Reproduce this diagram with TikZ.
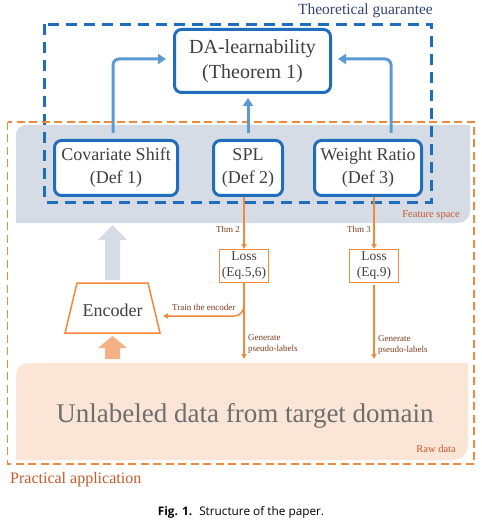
\documentclass[tikz,border=0pt]{standalone}
\usepackage{fontspec}
\setmainfont{Liberation Serif}
\newfontfamily\capfont{Open Sans}
\usetikzlibrary{arrows.meta,calc}
\definecolor{boxblue}{HTML}{1F6EBE}
\definecolor{arrblue}{HTML}{5B9BD5}
\definecolor{bandgray}{HTML}{D6DCE5}
\definecolor{bandpeach}{HTML}{FBE5D6}
\definecolor{peacharrow}{HTML}{F4B183}
\definecolor{orng}{HTML}{F08A3A}
\definecolor{txtgray}{HTML}{404040}
\definecolor{guar}{HTML}{33456E}
\definecolor{rust}{HTML}{C55A2A}
\definecolor{brn}{HTML}{7F3A1C}
\definecolor{biggray}{HTML}{6E6E6E}
\tikzset{
  bluebox/.style={draw=boxblue, line width=3pt, rounded corners=7pt, fill=white,
    align=center, inner sep=0pt, text=txtgray, minimum height=55pt},
  lossbox/.style={draw=orng, line width=1pt, fill=white, align=center, inner sep=0pt,
    text=txtgray, minimum width=49pt, minimum height=33pt,
    font=\fontsize{13.5}{16}\selectfont},
  barrow/.style={draw=arrblue, line width=3pt, rounded corners=6pt,
    -{Triangle[length=8pt,width=10pt]}},
  oarrow/.style={draw=orng, line width=1.5pt, -{Triangle[length=5pt,width=5pt]}},
  smalllbl/.style={text=brn, font=\fontsize{9}{11}\selectfont, inner sep=0pt},
  ralbl/.style={text=rust, font=\fontsize{10.5}{12}\selectfont, inner sep=0pt},
}
\begin{document}
\begin{tikzpicture}[x=1pt,y=-1pt]
\useasboundingbox (0,0) rectangle (481,521);
\fill[white] (0,0) rectangle (481,521);
% bands
\fill[bandgray] (16,223) -- (16,135) arc[start angle=180,end angle=270,radius=10] -- (470,125) -- (470,211) arc[start angle=0,end angle=90,radius=12] -- cycle;
\fill[bandpeach] (16,460) -- (16,375) arc[start angle=180,end angle=270,radius=12] -- (468,363) -- (468,445) arc[start angle=0,end angle=90,radius=15] -- cycle;
% frames
\draw[boxblue, line width=3pt, dash pattern=on 11pt off 7pt] (44.5,24.5) rectangle (431.5,202.5);
\draw[orng, line width=1.2pt, dash pattern=on 8pt off 4.5pt] (7.5,122) rectangle (474,464);
% boxes
\node[bluebox, minimum width=156pt, minimum height=63pt, font=\fontsize{20}{25}\selectfont] (da) at (252.5,61) {DA-learnability\\(Theorem 1)};
\node[bluebox, minimum width=123pt, font=\fontsize{18}{23}\selectfont] (cov) at (116,168) {Covariate Shift\\(Def 1)};
\node[bluebox, minimum width=69pt, font=\fontsize{18}{23}\selectfont] (spl) at (248,168) {SPL\\(Def 2)};
\node[bluebox, minimum width=107pt, font=\fontsize{18}{23}\selectfont] (wr) at (368,168) {Weight Ratio\\(Def 3)};
% blue arrows
\draw[barrow, shorten >=7pt] ([shift={(-3pt,6pt)}]cov.north) |- ([yshift=2pt]da.west);
\draw[barrow, shorten >=4pt] ([yshift=6pt]spl.north) -- (spl.north |- da.south);
\draw[barrow, shorten >=6pt] ([shift={(23pt,6pt)}]wr.north) |- ([yshift=2pt]da.east);
% loss boxes
\node[lossbox] (loss1) at (244,266) {Loss\\(Eq.5,6)};
\node[lossbox] (loss2) at (374,266) {Loss\\(Eq.9)};
% encoder
\draw[orng, line width=1.5pt, fill=white] (77,283) -- (148,283) -- (160,333) -- (65,333) -- cycle;
\node[anchor=base, text=txtgray, font=\fontsize{18}{22}\selectfont, inner sep=0pt] (enc) at (112.5,316) {Encoder};
% big arrows
\fill[bandgray] (105,280) -- (105,240) -- (98,240) -- (112.5,225) -- (127,240) -- (120,240) -- (120,280) -- cycle;
\fill[peacharrow] (105,359) -- (105,348) -- (98,348) -- (112.5,336) -- (127,348) -- (120,348) -- (120,359) -- cycle;
% orange connectors
\coordinate (g1) at (244,359);
\coordinate (g2) at (374,359);
\coordinate (tr) at (163,316);
\draw[oarrow] (spl.south -| loss1.north) -- (loss1.north);
\draw[oarrow] (wr.south -| loss2.north) -- (loss2.north);
\draw[oarrow] (loss1.south) -- (g1);
\draw[oarrow] ([yshift=-2pt]loss2.south) -- (g2);
\draw[oarrow, rounded corners=10pt] (loss1.south) |- (tr);
% labels
\node[smalllbl, anchor=base east] (t2) at (240,232) {Thm 2};
\node[smalllbl, anchor=base east] (t3) at (371,232) {Thm 3};
\node[smalllbl, anchor=base west] (te) at (172,310) {Train the encoder};
\node[smalllbl, anchor=base west] (ga) at (248,340) {Generate};
\node[smalllbl, anchor=base west] (gb) at (248,351) {pseudo-labels};
\node[smalllbl, anchor=base west] (gc) at (378,341) {Generate};
\node[smalllbl, anchor=base west] (gd) at (378,352) {pseudo-labels};
\node[anchor=base east, text=guar, font=\fontsize{15.5}{18}\selectfont, inner sep=0pt] (tg) at (433,15) {Theoretical guarantee};
\node[ralbl, anchor=base east] (fs) at (460,217) {Feature space};
\node[ralbl, anchor=base east] (rd) at (456,452) {Raw data};
\node[anchor=base, text=biggray, font=\fontsize{27}{30}\selectfont, inner sep=0pt] (ud) at (245,422) {Unlabeled data from target domain};
\node[anchor=base west, text=rust, font=\fontsize{16}{18}\selectfont, inner sep=0pt] (pa) at (10,483) {Practical application};
\node[anchor=base, font=\capfont\fontsize{11.8}{14}\selectfont, inner sep=0pt] (cap) at (241,515) {\textbf{Fig. 1.}\hspace{0.6em}Structure of the paper.};
\end{tikzpicture}
\end{document}
